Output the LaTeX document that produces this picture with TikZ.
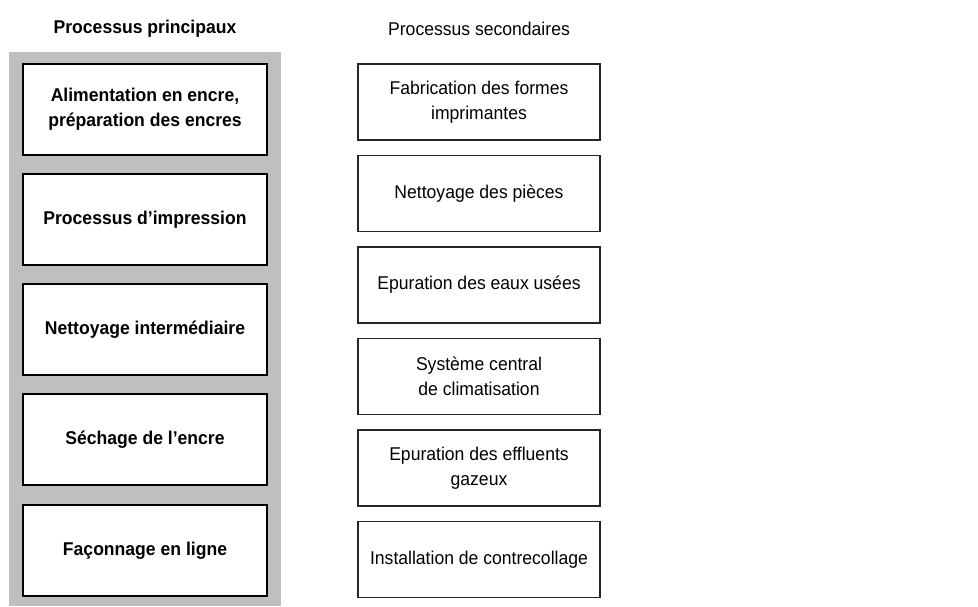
\documentclass[tikz,border=0pt]{standalone}
\usepackage{fontspec}
\setmainfont{Liberation Sans}[FakeStretch=0.95]
\usetikzlibrary{positioning}
\usepackage{xcolor}
\colorlet{mygray}{black!25}
\tikzset{
  x=1pt, y=-1pt,
  box/.style={rectangle,minimum width=244,minimum height=91,inner sep=2,align=center,
              font=\fontsize{18.5}{25}\selectfont},
  box main/.style={box,line width=2,draw=black,fill=white,font=\fontsize{18.5}{25}\selectfont\bfseries},
  box side/.style={box,draw=black!85,fill=white,minimum width=242,minimum height=76,line width=1.2},
  title/.style={font=\fontsize{18.5}{25}\selectfont}
}
\begin{document}
\begin{tikzpicture}
    \useasboundingbox (0,0) rectangle (978,606);
    % grey panel behind the main processes
    \fill[mygray] (9,52) rectangle (281,606);
    \node[title,font=\fontsize{18.5}{25}\selectfont\bfseries] (tmain) at (145,29) {Processus principaux};
    \node[title] (tside) at (479,29) {Processus secondaires};
    % main processes
    \node[box main] (m1) at (145,109.5) {Alimentation en encre,\\pr\'eparation des encres};
    \node[box main] (m2) at (145,219.5) {Processus d'impression};
    \node[box main] (m3) at (145,329.5) {Nettoyage interm\'ediaire};
    \node[box main] (m4) at (145,439.5) {S\'echage de l'encre};
    \node[box main] (m5) at (145,550.5) {Fa\c{c}onnage en ligne};
    % secondary processes
    \node[box side] (s1) at (479,102) {Fabrication des formes\\imprimantes};
    \node[box side] (s2) at (479,193.5) {Nettoyage des pi\`eces};
    \node[box side] (s3) at (479,285) {Epuration des eaux us\'ees};
    \node[box side] (s4) at (479,376.5) {Syst\`eme central\\de climatisation};
    \node[box side] (s5) at (479,468) {Epuration des effluents\\gazeux};
    \node[box side] (s6) at (479,559.5) {Installation de contrecollage};
\end{tikzpicture}
\end{document}
